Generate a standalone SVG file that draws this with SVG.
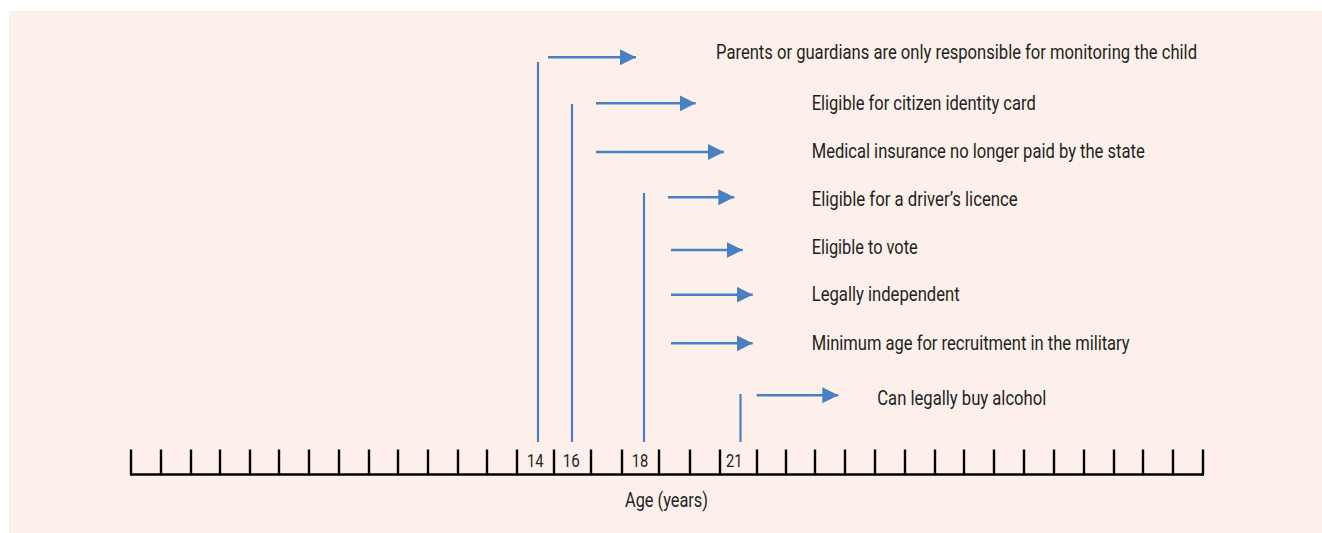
<svg xmlns="http://www.w3.org/2000/svg" width="1322" height="533" viewBox="0 0 1322 533">
<style>
.lbl{font-family:"Roboto","Liberation Sans",sans-serif;font-size:20px;fill:#231f20}
.num{font-family:"Roboto","Liberation Sans",sans-serif;font-size:17.5px;fill:#231f20}
.vl{stroke:#4a7fc1;stroke-width:2.2;fill:none}
.ar{stroke:#4a7fc1;stroke-width:2.6;fill:none;marker-end:url(#ah)}
.ax{stroke:#000;stroke-width:2.4;fill:none}
</style>
<defs>
<marker id="ah" markerUnits="userSpaceOnUse" markerWidth="17" markerHeight="17" refX="16" refY="8" orient="auto" viewBox="0 0 17 17">
<path d="M0,0 L16,8 L0,16 z" fill="#4a7fc1"/>
</marker>
</defs>
<rect x="9" y="11" width="1313" height="522" fill="#fdf0eb"/>
<g id="axis">
<path class="ax" d="M130,474.5 H1204"/>
<path class="ax" d="M131,449.5V474.5 M161,449.5V474.5 M191,449.5V474.5 M220,449.5V474.5 M250,449.5V474.5 M279,449.5V474.5 M309,449.5V474.5 M339,449.5V474.5 M369,449.5V474.5 M398,449.5V474.5 M428,449.5V474.5 M458,449.5V474.5 M487,449.5V474.5 M517,449.5V474.5 M554,449.5V474.5 M591,449.5V474.5 M622,449.5V474.5 M659,449.5V474.5 M690,449.5V474.5 M720,449.5V474.5 M757,449.5V474.5 M786,449.5V474.5 M815,449.5V474.5 M845,449.5V474.5 M875,449.5V474.5 M905,449.5V474.5 M935,449.5V474.5 M964,449.5V474.5 M994,449.5V474.5 M1024,449.5V474.5 M1054,449.5V474.5 M1084,449.5V474.5 M1114,449.5V474.5 M1143,449.5V474.5 M1173,449.5V474.5 M1203,449.5V474.5"/>
<text class="num" x="527" y="467" textLength="16.5" lengthAdjust="spacingAndGlyphs">14</text>
<text class="num" x="562.7" y="467" textLength="17" lengthAdjust="spacingAndGlyphs">16</text>
<text class="num" x="631.7" y="467" textLength="16.5" lengthAdjust="spacingAndGlyphs">18</text>
<text class="num" x="726" y="467" textLength="16.5" lengthAdjust="spacingAndGlyphs">21</text>
<text class="lbl" x="625" y="507" font-size="18.5" textLength="83" lengthAdjust="spacingAndGlyphs">Age (years)</text>
</g>
<g id="age-lines">
<path class="vl" d="M538,62V442"/>
<path class="vl" d="M572,104V442"/>
<path class="vl" d="M644,193V442"/>
<path class="vl" d="M740.5,394V442"/>
</g>
<g id="connectors">
<path class="ar" d="M548,57.3H636"/>
<path class="ar" d="M596,103.3H695.7"/>
<path class="ar" d="M596,152H724"/>
<path class="ar" d="M668,197.3H734.3"/>
<path class="ar" d="M671,250H742.7"/>
<path class="ar" d="M671,294.7H752.7"/>
<path class="ar" d="M671,343.3H752.7"/>
<path class="ar" d="M756.7,395.3H838.3"/>
</g>
<g id="n1"><text class="lbl" x="716" y="59" textLength="481" lengthAdjust="spacingAndGlyphs">Parents or guardians are only responsible for monitoring the child</text></g>
<g id="n2"><text class="lbl" x="811.7" y="110" textLength="224" lengthAdjust="spacingAndGlyphs">Eligible for citizen identity card</text></g>
<g id="n3"><text class="lbl" x="811.7" y="157.7" textLength="333" lengthAdjust="spacingAndGlyphs">Medical insurance no longer paid by the state</text></g>
<g id="n4"><text class="lbl" x="811.7" y="206" textLength="206" lengthAdjust="spacingAndGlyphs">Eligible for a driver’s licence</text></g>
<g id="n5"><text class="lbl" x="811.7" y="254" textLength="106" lengthAdjust="spacingAndGlyphs">Eligible to vote</text></g>
<g id="n6"><text class="lbl" x="811.7" y="300.5" textLength="148" lengthAdjust="spacingAndGlyphs">Legally independent</text></g>
<g id="n7"><text class="lbl" x="811.7" y="350" textLength="318" lengthAdjust="spacingAndGlyphs">Minimum age for recruitment in the military</text></g>
<g id="n8"><text class="lbl" x="877.3" y="405" textLength="169" lengthAdjust="spacingAndGlyphs">Can legally buy alcohol</text></g>
</svg>
